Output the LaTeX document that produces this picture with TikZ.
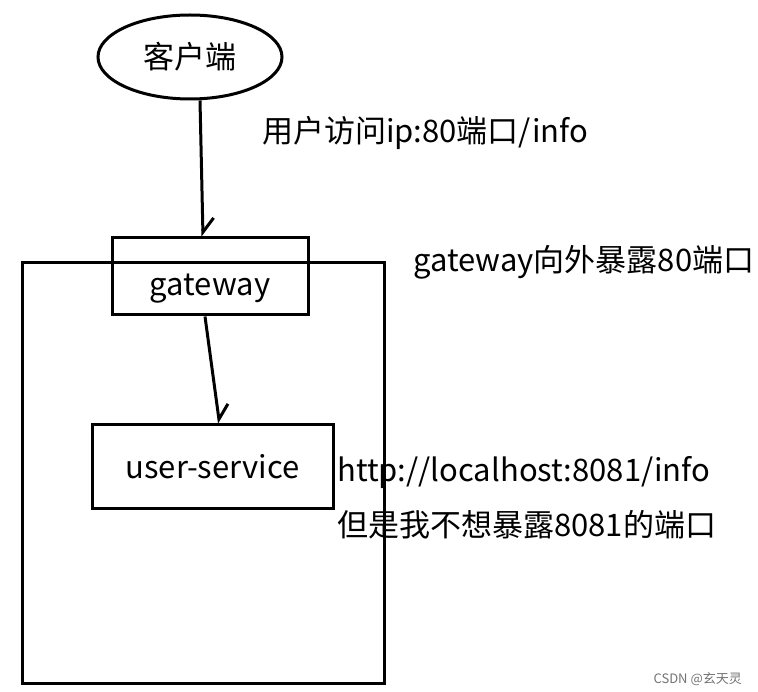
\documentclass[tikz,border=0pt]{standalone}
\usepackage{fontspec}
\setmainfont{Noto Sans CJK SC}
\usetikzlibrary{arrows.meta,shapes.geometric}

\tikzset{
	thick line/.style={line width=3pt},
	box/.style={draw, thick line, rectangle, inner sep=0pt},
	big font/.style={font=\fontsize{31}{36}\selectfont},
	label text/.style={anchor=west, inner sep=0pt, big font},
	half arrow/.style={thick line, -{Straight Barb[left, length=14pt, width=22pt, line width=3pt]}}
}

\begin{document}
\begin{tikzpicture}[x=1pt, y=-1pt]
		%%%%% START %%%%%
		\useasboundingbox (0, 0) rectangle (758, 692);
		
		\node[draw, thick line, ellipse, minimum width=184pt, minimum height=84pt, inner sep=0pt, big font] (client) at (190, 57) {客户端};
		
		\draw[thick line] (22, 263) rectangle (384, 683);
		
		\node[box, minimum width=196pt, text height=58pt, text depth=19pt, big font] (gw) at (210, 276.5) {gateway};
		\node[box, minimum width=241pt, minimum height=83pt, big font] (svc) at (212.5, 466.5) {user-service};
		
		\draw[half arrow] ([xshift=10pt]client.south) -- ([xshift=-7pt]gw.north);
		\draw[half arrow] ([xshift=-5pt]gw.south) -- ([xshift=7pt]svc.north);
		
		\node[label text] (visit) at (262, 133) {用户访问ip:80端口/info};
		\node[label text] (expose) at (413, 262) {gateway向外暴露80端口};
		\node[label text] (url) at (337, 473) {http://localhost:8081/info};
		\node[label text] (hide) at (337, 525) {但是我不想暴露8081的端口};
		
		\node[anchor=east, inner sep=0pt, text=black!55, font=\fontsize{13}{15}\selectfont] (mark) at (742, 679) {CSDN @玄天灵};
		
		%%%%% END %%%%%
	\end{tikzpicture}
\end{document}
